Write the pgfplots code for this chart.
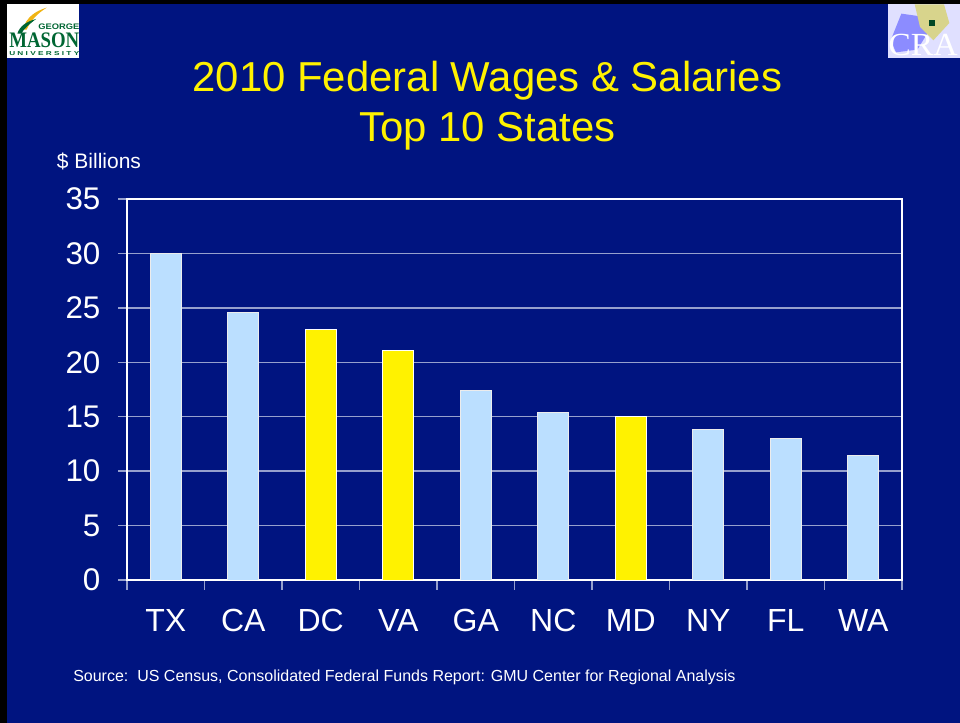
\documentclass[border=0pt]{standalone}
\usepackage{pgfplots}
\pgfplotsset{compat=1.18}
\usepackage{fontspec}
\setmainfont{Liberation Sans}
\newfontfamily\serifL{Liberation Serif}
\definecolor{navy}{RGB}{0,20,128}
\definecolor{lightbar}{RGB}{187,223,255}
\definecolor{gridc}{RGB}{150,160,205}
\definecolor{gmugreen}{RGB}{0,102,51}
\definecolor{gmugold}{RGB}{240,180,20}
\begin{document}
\begin{tikzpicture}
\path[use as bounding box] (0,0) rectangle (720pt,542.25pt);
\fill[black] (0,0) rectangle (720pt,542.25pt);
\fill[navy] (5.25pt,0) rectangle (720pt,539.25pt);
% GMU logo
\fill[white] (5.25pt,498.75pt) rectangle (59.25pt,539.25pt);
\fill[gmugold] (17pt,520pt) .. controls (20pt,530pt) and (27pt,534pt) .. (35pt,536.5pt) .. controls (28pt,532pt) and (23pt,527pt) .. (20pt,520pt) -- cycle;
\fill[gmugreen] (13pt,517pt) .. controls (15pt,523pt) and (20pt,526pt) .. (27pt,528pt) .. controls (22pt,524pt) and (18pt,521pt) .. (16pt,517pt) -- cycle;
\node[gmugreen, inner sep=0pt, anchor=south west] at (28.5pt,519.5pt) {\resizebox{30.75pt}{4.2pt}{\bfseries GEORGE}};
\node[gmugreen, inner sep=0pt, anchor=south west] at (6.75pt,506.5pt) {\resizebox{52.5pt}{11pt}{\serifL\bfseries MASON}};
\node[gmugreen, inner sep=0pt, anchor=south west] at (6.75pt,500.5pt) {\resizebox{52.5pt}{3pt}{\bfseries U N I V E R S I T Y}};
% CRA logo
\fill[white!88!blue] (666pt,498.75pt) rectangle (720pt,539.25pt);
\fill[blue!45!white] (668pt,512pt) -- (676pt,532pt) -- (690pt,530pt) -- (696pt,518pt) -- (688pt,505pt) -- (672pt,503pt) -- cycle;
\fill[olive!35!white] (686pt,539pt) -- (708pt,539pt) -- (712pt,525pt) -- (700pt,512pt) -- (690pt,522pt) -- cycle;
\fill[gmugreen!70!black] (697pt,523pt) rectangle (701pt,527pt);
\node[white, inner sep=0pt, anchor=south west] at (666pt,500.25pt) {\resizebox{52pt}{16pt}{\serifL CRA}};
% titles
\node[yellow, anchor=base, inner sep=0pt, font=\fontsize{31.4}{36}\selectfont] at (365.6pt,473.5pt) {2010 Federal Wages \& Salaries};
\node[yellow, anchor=base, inner sep=0pt, font=\fontsize{31.4}{36}\selectfont] at (365.6pt,436pt) {Top 10 States};
\node[white, anchor=base west, inner sep=0pt, font=\fontsize{15.75}{18}\selectfont] at (42.5pt,416pt) {\$ Billions};
\node[white, anchor=base west, inner sep=0pt, font=\fontsize{12}{14}\selectfont] at (54.75pt,31pt) {Source:\ \ US Census, Consolidated Federal Funds Report: GMU Center for Regional Analysis};
\begin{axis}[
  at={(95.25pt,107.25pt)}, anchor=south west,
  scale only axis, width=581.25pt, height=285.75pt,
  xmin=-0.5, xmax=9.5, ymin=0, ymax=35,
  ybar, bar width=23.25pt,
  axis line style={white, line width=0.9pt},
  ytick={0,5,...,35},
  ymajorgrids, grid style={gridc, line width=1pt},
  xtick={0,...,9},
  xticklabels={TX,CA,DC,VA,GA,NC,MD,NY,FL,WA},
  minor xtick={-0.5,0.5,1.5,2.5,3.5,4.5,5.5,6.5,7.5,8.5,9.5},
  xtick pos=bottom, ytick pos=left,
  tick align=outside, major tick length=6.75pt, minor tick length=7.5pt,
  xtick style={draw=none},
  minor x tick style={draw=gridc, line width=1pt},
  ytick style={draw=gridc, line width=1pt},
  /pgf/number format/assume math mode=true,
  yticklabel style={white, font=\fontsize{23.5}{26}\selectfont, inner sep=0pt, anchor=east, xshift=-13pt},
  xticklabel style={white, font=\fontsize{24}{28}\selectfont, inner sep=0pt, anchor=north, yshift=-15pt},
]
\addplot[bar shift=0pt, fill=lightbar, draw=white!85!gray, line width=0.6pt] coordinates {(0,30.0) (1,24.6) (4,17.45) (5,15.4) (7,13.87) (8,13.0) (9,11.48)};
\addplot[bar shift=0pt, fill=yellow, draw=white, line width=0.6pt] coordinates {(2,23.05) (3,21.1) (6,15.04)};
\end{axis}
\end{tikzpicture}
\end{document}
